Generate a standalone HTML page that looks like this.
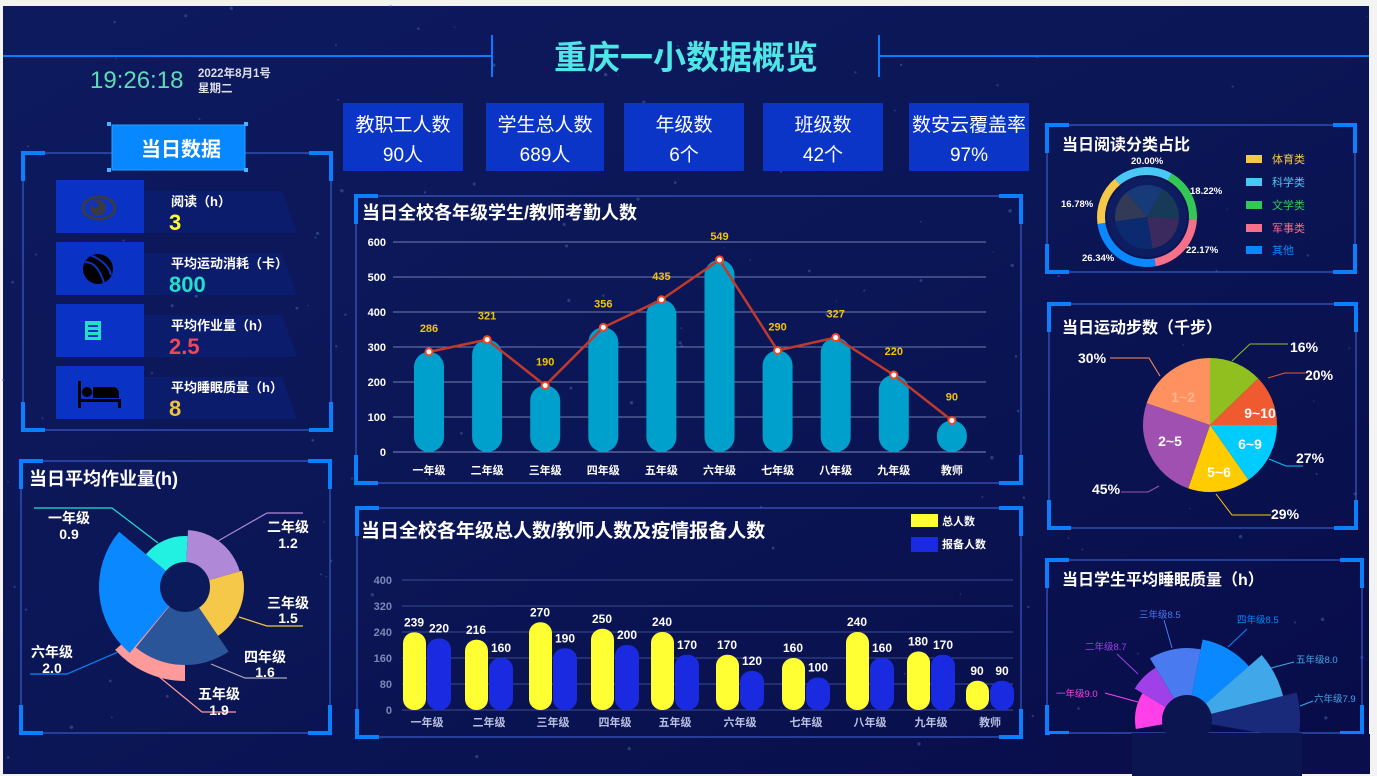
<!DOCTYPE html>
<html><head><meta charset="utf-8">
<style>
html,body{margin:0;padding:0;background:#f3f3f3;}
svg{display:block;font-family:"Liberation Sans","Noto Sans CJK SC",sans-serif;}
</style></head>
<body>
<svg id="s" width="1377" height="776" viewBox="0 0 1377 776" xmlns="http://www.w3.org/2000/svg">
<defs>
<linearGradient id="bg" x1="0" y1="0" x2="1" y2="1">
<stop offset="0" stop-color="#0d1a5e"/><stop offset="0.5" stop-color="#0b1656"/><stop offset="1" stop-color="#080c48"/>
</linearGradient>
</defs>
<rect x="0" y="0" width="1377" height="776" fill="#f3f3f3"/>
<rect x="3" y="6" width="1366" height="768" fill="url(#bg)"/>
<g id="stars" fill="#4a66b0" opacity="0.5"></g>

<!-- header -->
<line x1="3" y1="56" x2="492" y2="56" stroke="#0a7cff" stroke-width="2"/>
<line x1="879" y1="56" x2="1369" y2="56" stroke="#0a7cff" stroke-width="2"/>
<line x1="492" y1="35" x2="492" y2="77" stroke="#0a7cff" stroke-width="2"/>
<line x1="879" y1="35" x2="879" y2="77" stroke="#0a7cff" stroke-width="2"/>
<text x="686" y="69" text-anchor="middle" font-size="33" font-weight="bold" fill="#4ee6e6">重庆一小数据概览</text>
<text x="90" y="88" font-size="24" fill="#5edcb4" font-family="Liberation Sans Narrow, Liberation Sans, sans-serif">19:26:18</text>
<text x="198" y="77" font-size="11.5" font-weight="bold" fill="#dde">2022年8月1号</text>
<text x="198" y="92" font-size="11.5" font-weight="bold" fill="#dde">星期二</text>

<!-- stat cards -->
<g font-size="19" fill="#fff" text-anchor="middle">
<rect x="343" y="103" width="120" height="68" fill="#0a35c6"/><text x="403" y="131">教职工人数</text><text x="403" y="161">90人</text>
<rect x="486" y="103" width="118" height="68" fill="#0a35c6"/><text x="545" y="131">学生总人数</text><text x="545" y="161">689人</text>
<rect x="624" y="103" width="120" height="68" fill="#0a35c6"/><text x="684" y="131">年级数</text><text x="684" y="161">6个</text>
<rect x="763" y="103" width="120" height="68" fill="#0a35c6"/><text x="823" y="131">班级数</text><text x="823" y="161">42个</text>
<rect x="909" y="103" width="120" height="68" fill="#0a35c6"/><text x="969" y="131">数安云覆盖率</text><text x="969" y="161">97%</text>
</g>

<g id="frames" fill="none"></g>

<!-- left top panel -->
<rect x="112" y="125" width="133" height="45" fill="#0888ff" stroke="#2aa0ff"/>
<g fill="#4ab0ff"><rect x="107" y="122" width="4" height="4"/><rect x="244" y="122" width="4" height="4"/><rect x="107" y="168" width="4" height="4"/><rect x="244" y="168" width="4" height="4"/></g>
<text x="181" y="156" text-anchor="middle" font-size="20" font-weight="bold" fill="#fff">当日数据</text>
<g id="rows"></g>
<g font-weight="bold">
<text x="171" y="206" font-size="13" fill="#fff">阅读（h）</text><text x="169" y="230" font-size="22" fill="#ffff33">3</text>
<text x="171" y="268" font-size="13" fill="#fff">平均运动消耗（卡）</text><text x="169" y="292" font-size="22" fill="#22e0c8">800</text>
<text x="171" y="330" font-size="13" fill="#fff">平均作业量（h）</text><text x="169" y="354" font-size="22" fill="#f0465a">2.5</text>
<text x="171" y="392" font-size="13" fill="#fff">平均睡眠质量（h）</text><text x="169" y="416" font-size="22" fill="#f0c040">8</text>
</g>
<!-- icons -->
<ellipse cx="99" cy="208" rx="16" ry="11" fill="none" stroke="#3a3a44" stroke-width="3"/>
<circle cx="98" cy="208" r="8" fill="#3a3a44"/><circle cx="95" cy="205" r="3" fill="#0a33c6"/>
<circle cx="98" cy="269" r="15" fill="#000"/>
<path d="M85 262 Q98 262 104 283 M90 255 Q108 262 111 275" stroke="#0a33c6" stroke-width="2" fill="none"/>
<rect x="85" y="321" width="16" height="19" fill="#22e0c8"/>
<g stroke="#0a33c6" stroke-width="2"><line x1="88" y1="326" x2="98" y2="326"/><line x1="88" y1="331" x2="98" y2="331"/><line x1="88" y1="336" x2="98" y2="336"/></g>
<g fill="#000"><rect x="78" y="381" width="3" height="27"/><rect x="78" y="399" width="43" height="3"/><rect x="118" y="399" width="3" height="9"/><circle cx="87" cy="392" r="5"/><path d="M93 387 h20 q6 0 6 8 v3 h-26z"/></g>

<!-- left bottom panel -->
<text x="29" y="485" font-size="18" font-weight="bold" fill="#fff">当日平均作业量(h)</text>
<g id="rose1"></g>
<circle cx="185" cy="587" r="25" fill="#0b1a5a"/>
<g fill="none" stroke-width="1.2">
<polyline points="158,543 112,508 34,508" stroke="#22e0d8"/>
<polyline points="218,541 267,513 303,513" stroke="#b088d8"/>
<polyline points="239,617 267,626 303,626" stroke="#f5c84a"/>
<polyline points="211,664 245,678 287,678" stroke="#aab"/>
<polyline points="157,675 202,712 236,712" stroke="#ff9a9a"/>
<polyline points="118,652 67,674 30,674" stroke="#0a88ff"/>
</g>
<g font-size="14" font-weight="bold" fill="#fff" text-anchor="middle">
<text x="69" y="523">一年级</text><text x="69" y="539">0.9</text>
<text x="288" y="532">二年级</text><text x="288" y="548">1.2</text>
<text x="288" y="608">三年级</text><text x="288" y="623">1.5</text>
<text x="265" y="662">四年级</text><text x="265" y="677">1.6</text>
<text x="219" y="699">五年级</text><text x="219" y="715">1.9</text>
<text x="52" y="657">六年级</text><text x="52" y="673">2.0</text>
</g>

<!-- middle top chart -->
<text x="362" y="219" font-size="18" font-weight="bold" fill="#fff">当日全校各年级学生/教师考勤人数</text>
<g id="c1"></g>

<!-- middle bottom chart -->
<text x="361" y="537" font-size="19" font-weight="bold" fill="#fff">当日全校各年级总人数/教师人数及疫情报备人数</text>
<rect x="911" y="514" width="27" height="13" fill="#ffff33"/><text x="942" y="525" font-size="11" font-weight="bold" fill="#fff">总人数</text>
<rect x="911" y="537" width="27" height="15" fill="#1a2ae0"/><text x="942" y="548" font-size="11" font-weight="bold" fill="#fff">报备人数</text>
<g id="c2"></g>

<!-- right top -->
<text x="1062" y="150" font-size="16" font-weight="bold" fill="#fff">当日阅读分类占比</text>
<g id="donut"></g>
<g font-size="9.5" font-weight="bold" fill="#fff">
<text x="1131" y="164">20.00%</text><text x="1190" y="194">18.22%</text><text x="1061" y="207">16.78%</text>
<text x="1186" y="253">22.17%</text><text x="1082" y="261">26.34%</text>
</g>
<g font-size="11">
<rect x="1246" y="155" width="16" height="8" fill="#f5c84a"/><text x="1272" y="163" fill="#f5c84a">体育类</text>
<rect x="1246" y="178" width="16" height="8" fill="#4ac8f5"/><text x="1272" y="186" fill="#4ac8f5">科学类</text>
<rect x="1246" y="201" width="16" height="8" fill="#33c855"/><text x="1272" y="209" fill="#33c855">文学类</text>
<rect x="1246" y="224" width="16" height="8" fill="#f57088"/><text x="1272" y="232" fill="#f57088">军事类</text>
<rect x="1246" y="246" width="16" height="8" fill="#0a88ff"/><text x="1272" y="254" fill="#0a88ff">其他</text>
</g>

<!-- right middle -->
<text x="1062" y="333" font-size="16" font-weight="bold" fill="#fff">当日运动步数（千步）</text>
<g id="pie"></g>
<g fill="none" stroke-width="1">
<polyline points="1232,361 1250,344 1288,344" stroke="#90c020"/>
<polyline points="1268,378 1285,373 1305,373" stroke="#f05a30"/>
<polyline points="1269,459 1286,466 1303,466" stroke="#00c8ff"/>
<polyline points="1216,494 1232,515 1271,515" stroke="#ffcc00"/>
<polyline points="1159,486 1148,492 1121,492" stroke="#a050b0"/>
<polyline points="1160,376 1149,358 1110,358" stroke="#ff9060"/>
</g>
<g font-size="14" font-weight="bold" fill="#fff">
<text x="1290" y="352">16%</text><text x="1305" y="380">20%</text><text x="1296" y="463">27%</text>
<text x="1271" y="519">29%</text><text x="1092" y="494">45%</text><text x="1078" y="363">30%</text>
</g>
<g font-size="14" font-weight="bold" fill="#fff" text-anchor="middle">
<text x="1183" y="402" fill="#ffb890">1~2</text><text x="1260" y="418">9~10</text>
<text x="1250" y="449">6~9</text><text x="1170" y="446">2~5</text><text x="1219" y="477">5~6</text>
</g>

<!-- right bottom -->
<rect x="1132" y="733" width="170" height="43" fill="#0b1650"/>
<text x="1062" y="585" font-size="16" font-weight="bold" fill="#fff">当日学生平均睡眠质量（h）</text>
<g id="rose2"></g>
<g fill="none" stroke-width="1">
<line x1="1105" y1="693" x2="1138" y2="702" stroke="#ff40e8"/>
<line x1="1117" y1="654" x2="1138" y2="674" stroke="#a040e8"/>
<line x1="1164" y1="620" x2="1172" y2="648" stroke="#4a7af0"/>
<line x1="1247" y1="629" x2="1228" y2="647" stroke="#0a88ff"/>
<line x1="1294" y1="662" x2="1271" y2="668" stroke="#40a8e8"/>
<line x1="1313" y1="701" x2="1300" y2="706" stroke="#40a8e8"/>
</g>
<g font-size="9.5">
<text x="1056" y="697" fill="#ff40e8">一年级9.0</text>
<text x="1085" y="650" fill="#a040e8">二年级8.7</text>
<text x="1139" y="618" fill="#4a7af0">三年级8.5</text>
<text x="1237" y="623" fill="#0a88ff">四年级8.5</text>
<text x="1296" y="663" fill="#40a8e8">五年级8.0</text>
<text x="1314" y="702" fill="#40a8e8">六年级7.9</text>
</g>
</svg>
<script>
var NS="http://www.w3.org/2000/svg";
function el(p,t,a){var e=document.createElementNS(NS,t);for(var k in a)e.setAttribute(k,a[k]);document.getElementById(p).appendChild(e);return e;}
function pt(cx,cy,r,a){a=a*Math.PI/180;return [cx+r*Math.sin(a),cy-r*Math.cos(a)];}
function sec(g,cx,cy,r0,r1,a0,a1,f){var l=(a1-a0)>180?1:0;var p1=pt(cx,cy,r1,a0),p2=pt(cx,cy,r1,a1);var d="M"+(r0?pt(cx,cy,r0,a0):[cx,cy]).join(" ")+" L"+p1.join(" ")+" A"+r1+" "+r1+" 0 "+l+" 1 "+p2.join(" ");
if(r0){var q=pt(cx,cy,r0,a1);d+=" L"+q.join(" ")+" A"+r0+" "+r0+" 0 "+l+" 0 "+pt(cx,cy,r0,a0).join(" ");}else d+=" L"+cx+" "+cy;d+="Z";el(g,"path",{d:d,fill:f});}
// stars
var seed=7;function rnd(){seed=(seed*9301+49297)%233280;return seed/233280;}
for(var i=0;i<160;i++)el("stars","circle",{cx:3+rnd()*1366,cy:6+rnd()*768,r:0.6+rnd()*1.2});
// frames
function frame(x1,y1,x2,y2){el("frames","rect",{x:x1,y:y1,width:x2-x1,height:y2-y1,stroke:"#3a5cc8","stroke-width":1.2,fill:"none"});
var c="#0a80ff",w=4,L=22,V=28;
[[x1,y1,1,1],[x2,y1,-1,1],[x1,y2,1,-1],[x2,y2,-1,-1]].forEach(function(k){
el("frames","path",{d:"M"+(k[0]+k[2]*L)+" "+k[1]+" L"+k[0]+" "+k[1]+" L"+k[0]+" "+(k[1]+k[3]*V),stroke:c,"stroke-width":w,fill:"none"});});}
frame(23,153,331,430);frame(21,461,330,733);frame(356,196,1021,483);frame(357,508,1021,737);
frame(1047,125,1355,272);frame(1049,304,1356,528);frame(1047,560,1362,733);
// rows
[180,242,304,366].forEach(function(y){el("rows","polygon",{points:"144,"+(y+11)+" 282,"+(y+11)+" 297,"+(y+53)+" 144,"+(y+53),fill:"#0b1c6c"});el("rows","rect",{x:56,y:y,width:88,height:53,fill:"#0a33c6"});});
// rose1
var R="rose1";sec(R,185,587,0,94,180,228,"#ff9a9a");sec(R,185,587,0,86,220,310,"#0a88ff");sec(R,185,587,0,51,310,363,"#22f0e0");
sec(R,185,587,0,57,3,74,"#b088d8");sec(R,185,587,0,59,74,146,"#f5c84a");sec(R,185,587,0,78,146,219,"#2a5598");
// chart1
var v1=[286,321,190,356,435,549,290,327,220,90],lab=["一年级","二年级","三年级","四年级","五年级","六年级","七年级","八年级","九年级","教师"];
var z1=452,s1=210/600;
for(var i=0;i<=6;i++){var y=z1-i*100*s1;el("c1","line",{x1:393,x2:986,y1:y,y2:y,stroke:i?"#8898c8":"#9aa6d0","stroke-width":1,opacity:0.8});var t=el("c1","text",{x:386,y:y+4,"text-anchor":"end","font-size":11,"font-weight":"bold",fill:"#fff"});t.textContent=i*100;}
var pts=[];
v1.forEach(function(v,i){var cx=429+i*58.1,top=z1-v*s1;el("c1","rect",{x:cx-15,y:top,width:30,height:z1-top,rx:15,fill:"#00a0cc"});pts.push(cx+","+top);
var t=el("c1","text",{x:cx,y:top-20,"text-anchor":"middle","font-size":11,"font-weight":"bold",fill:"#f5c400"});t.textContent=v;
var t2=el("c1","text",{x:cx,y:474,"text-anchor":"middle","font-size":11,"font-weight":"bold",fill:"#fff"});t2.textContent=lab[i];});
el("c1","polyline",{points:pts.join(" "),fill:"none",stroke:"#c0392b","stroke-width":2.5});
pts.forEach(function(p){p=p.split(",");el("c1","circle",{cx:p[0],cy:p[1],r:3.5,fill:"#fff",stroke:"#e84a2a","stroke-width":2});});
// chart2
var a=[239,216,270,250,240,170,160,240,180,90],b=[220,160,190,200,170,120,100,160,170,90];
var z2=710,s2=130/400;
for(var i=0;i<=5;i++){var y=z2-i*80*s2;el("c2","line",{x1:402,x2:1013,y1:y,y2:y,stroke:"#3a4c90","stroke-width":1});var t=el("c2","text",{x:392,y:y+4,"text-anchor":"end","font-size":11,"font-weight":"bold",fill:"#7a88b8"});t.textContent=i*80;}
var xs=[403,465,529,591,651,716,782,846,907,966];
xs.forEach(function(x,i){var ta=z2-a[i]*s2,tb=z2-b[i]*s2;
el("c2","rect",{x:x,y:ta,width:23,height:z2-ta,rx:11,fill:"#ffff33"});el("c2","rect",{x:x+24,y:tb,width:24,height:z2-tb,rx:11,fill:"#1a2ae0"});
var t=el("c2","text",{x:x+11,y:ta-6,"text-anchor":"middle","font-size":12,"font-weight":"bold",fill:"#fff"});t.textContent=a[i];
t=el("c2","text",{x:x+36,y:tb-6,"text-anchor":"middle","font-size":12,"font-weight":"bold",fill:"#fff"});t.textContent=b[i];
t=el("c2","text",{x:x+24,y:726,"text-anchor":"middle","font-size":11,"font-weight":"bold",fill:"#b8c0e0"});t.textContent=lab[i];});
// donut
var D="donut",cx=1147,cy=217;
sec(D,cx,cy,42,50,-40,29.6,"#4ac8f5");sec(D,cx,cy,42,50,29.6,93,"#33c855");sec(D,cx,cy,42,50,93,170,"#f57088");sec(D,cx,cy,42,50,170,262,"#0a88ff");sec(D,cx,cy,42,50,262,320,"#f5c84a");
el(D,"circle",{cx:cx,cy:cy,r:40,fill:"#0d1d60"});
sec(D,cx,cy,0,32,-40,29.6,"#173a78");sec(D,cx,cy,0,32,29.6,93,"#163a58");sec(D,cx,cy,0,32,93,170,"#3a2a5e");sec(D,cx,cy,0,32,170,262,"#0c2a70");sec(D,cx,cy,0,32,262,320,"#333a58");
// pie
var P="pie";cx=1210;cy=425;
sec(P,cx,cy,0,67,0,46,"#90c020");sec(P,cx,cy,0,67,46,90,"#f05a30");sec(P,cx,cy,0,67,90,145,"#00ccff");sec(P,cx,cy,0,67,145,199,"#ffcc00");sec(P,cx,cy,0,67,199,289,"#a050b0");sec(P,cx,cy,0,67,289,360,"#ff9060");
// rose2
var S="rose2";cx=1187;cy=720;
var g=el(S,"g",{});var cp=el(S,"clipPath",{id:"cl"});
sec(S,cx,cy,0,52,260,301,"#ff40e8");sec(S,cx,cy,0,61,301,329,"#a040e8");sec(S,cx,cy,0,72,329,371,"#4a7af0");sec(S,cx,cy,0,82,11,49,"#0a88ff");sec(S,cx,cy,0,99,49,76,"#40a8e8");sec(S,cx,cy,0,113,76,100,"#1a2a7a");
el(S,"circle",{cx:cx,cy:cy,r:25,fill:"#0b1650"});
el(S,"rect",{x:1050,y:734,width:320,height:40,fill:"#0a0f4c"});
el(S,"rect",{x:1132,y:733,width:170,height:43,fill:"#0b1650"});
</script>
</body></html>
